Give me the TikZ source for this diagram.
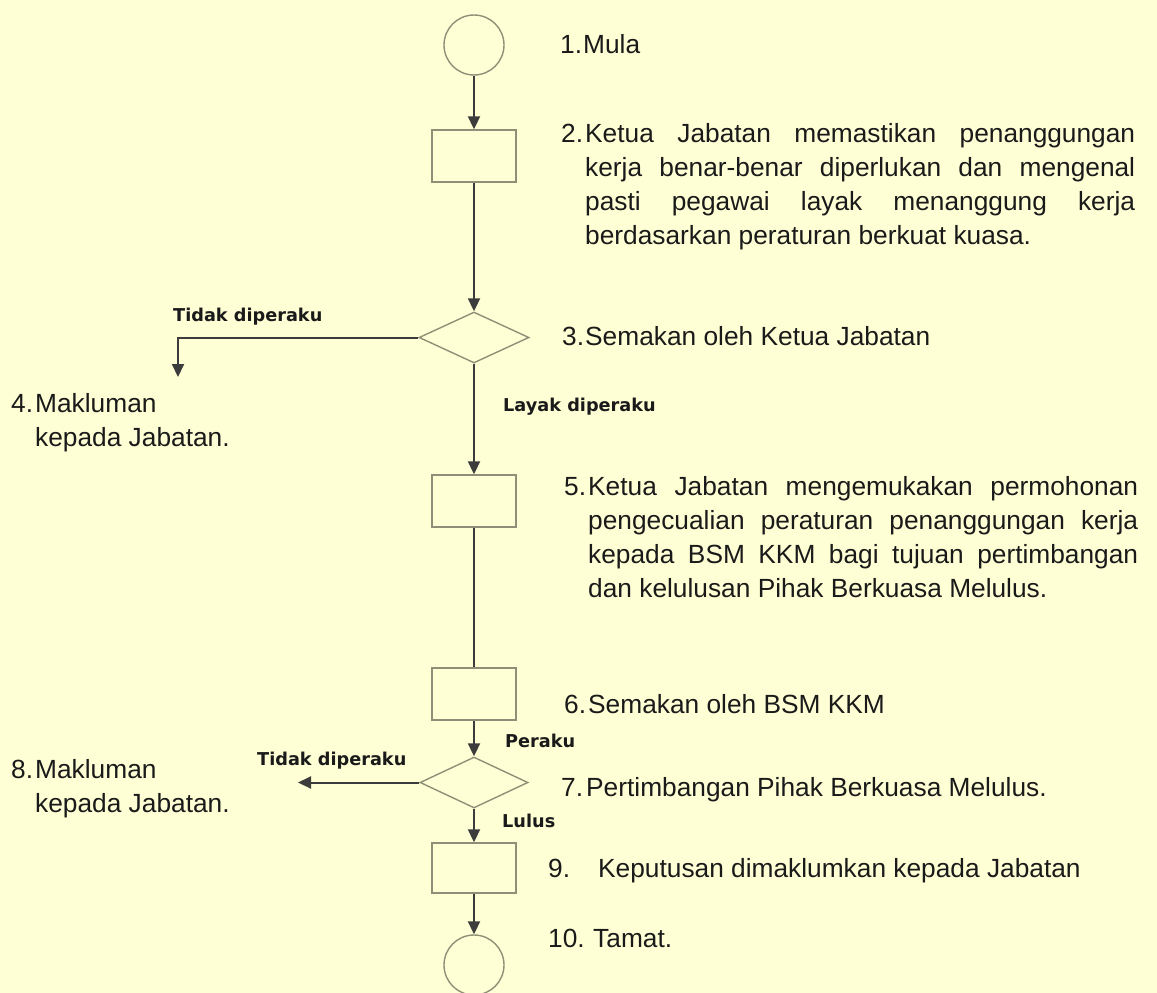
\documentclass[tikz,border=0pt]{standalone}
\usepackage{fontspec}
\setmainfont{Liberation Sans}
\newfontfamily\lblfont{DejaVu Sans}
\usetikzlibrary{arrows.meta,shapes.geometric}
\definecolor{bgcol}{HTML}{FFFFD5}
\definecolor{shapecol}{HTML}{8F8F78}
\definecolor{linecol}{HTML}{3C3C3C}
\definecolor{textcol}{HTML}{1A1A1A}
\newcommand\mybody{\fontsize{26.3}{34}\selectfont}
\newcommand\mylbl{\lblfont\bfseries\fontsize{17.7}{20}\selectfont}
\tikzset{
  shp/.style={draw=shapecol, line width=1.4pt, inner sep=0pt},
  boxshape/.style={shp, rectangle, minimum width=84pt, minimum height=52pt},
  roundshape/.style={shp, circle, minimum size=60pt},
  decshape/.style={shp, diamond, minimum width=110pt, minimum height=51pt},
  arr/.style={draw=linecol, line width=2pt, -{Triangle[length=13pt,width=12pt]}},
  plainln/.style={draw=linecol, line width=2pt},
  txt/.style={anchor=base west, inner sep=0pt, font=\mybody, text=textcol},
  lbl/.style={anchor=base west, inner sep=0pt, font=\mylbl, text=textcol}
}
\begin{document}
\begin{tikzpicture}[x=1pt,y=-1pt]
\useasboundingbox (0,0) rectangle (1157,993);
\fill[bgcol] (0,0) rectangle (1157,993);

% shapes
\node[roundshape] (c1) at (474,45) {};
\node[boxshape] (r1) at (474,156) {};
\node[decshape] (d1) at (474,337.5) {};
\node[boxshape] (r2) at (474,501) {};
\node[boxshape] (r3) at (474,694) {};
\node[decshape, minimum width=108pt] (d2) at (474,782.5) {};
\node[boxshape, minimum height=50pt] (r4) at (474,868) {};
\node[roundshape] (c2) at (474,965) {};
\coordinate (e4) at (178,377);
\coordinate (e8) at (298,782.5);

% connectors
\draw[arr] (c1) -- (r1);
\draw[arr] (r1) -- (d1);
\draw[arr] (d1.west) -| (e4);
\draw[arr] (d1) -- (r2);
\draw[plainln] (r2) -- (r3);
\draw[arr] (r3) -- (d2);
\draw[arr] (d2.west) -- (e8);
\draw[arr] (d2) -- (r4);
\draw[arr] (r4) -- (c2);

% connector labels
\node[lbl] (l1) at (173,321) {Tidak diperaku};
\node[lbl] (l2) at (503,411) {Layak diperaku};
\node[lbl] (l3) at (505,747) {Peraku};
\node[lbl] (l4) at (257,765) {Tidak diperaku};
\node[lbl] (l5) at (502,827) {Lulus};

% item 1
\node[txt] (n1) at (560,53) {1.};
\node[txt] (t1) at (583,53) {Mula};
% item 2
\node[txt] (n2) at (561,142) {2.};
\node[txt] (t2a) at (585,142) {\makebox[550pt][s]{Ketua Jabatan memastikan penanggungan}};
\node[txt] (t2b) at (585,176) {\makebox[550pt][s]{kerja benar-benar diperlukan dan mengenal}};
\node[txt] (t2c) at (585,210) {\makebox[550pt][s]{pasti pegawai layak menanggung kerja}};
\node[txt] (t2d) at (585,244) {berdasarkan peraturan berkuat kuasa.};
% item 3
\node[txt] (n3) at (562,345) {3.};
\node[txt] (t3) at (585,345) {Semakan oleh Ketua Jabatan};
% item 4
\node[txt] (n4) at (11,412) {4.};
\node[txt] (t4a) at (35,412) {Makluman};
\node[txt] (t4b) at (35,446) {kepada Jabatan.};
% item 5
\node[txt] (n5) at (564,495) {5.};
\node[txt] (t5a) at (588,495) {\makebox[550pt][s]{Ketua Jabatan mengemukakan permohonan}};
\node[txt] (t5b) at (588,529) {\makebox[550pt][s]{pengecualian peraturan penanggungan kerja}};
\node[txt] (t5c) at (588,563) {\makebox[550pt][s]{kepada BSM KKM bagi tujuan pertimbangan}};
\node[txt] (t5d) at (588,597) {dan kelulusan Pihak Berkuasa Melulus.};
% item 6
\node[txt] (n6) at (564,713) {6.};
\node[txt] (t6) at (588,713) {Semakan oleh BSM KKM};
% item 7
\node[txt] (n7) at (561,796) {7.};
\node[txt] (t7) at (586,796) {Pertimbangan Pihak Berkuasa Melulus.};
% item 8
\node[txt] (n8) at (11,778) {8.};
\node[txt] (t8a) at (35,778) {Makluman};
\node[txt] (t8b) at (35,812) {kepada Jabatan.};
% item 9
\node[txt] (n9) at (548,877) {9.};
\node[txt] (t9) at (598,877) {Keputusan dimaklumkan kepada Jabatan};
% item 10
\node[txt] (n10) at (548,947) {10.};
\node[txt] (t10) at (593,947) {Tamat.};
\end{tikzpicture}
\end{document}
